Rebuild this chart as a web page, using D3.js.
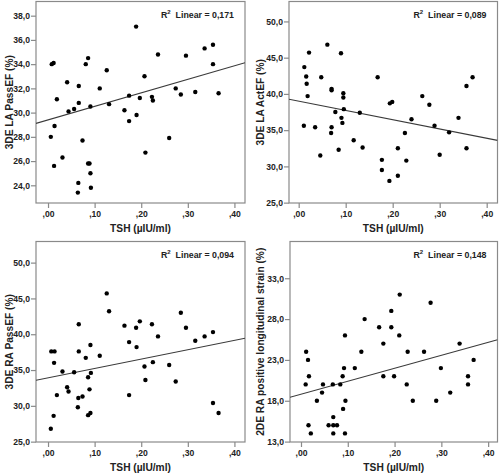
<!DOCTYPE html>
<html>
<head>
<meta charset="utf-8">
<script src="https://cdn.jsdelivr.net/npm/d3@7"></script>
<style>
  html, body { margin: 0; padding: 0; background: #fff; }
  svg { display: block; }
  text { font-family: "Liberation Sans", Arial, sans-serif; font-weight: bold; fill: #222; }
</style>
</head>
<body>
<svg id="chart" width="500" height="473"></svg>
<script>
// ---------- data ----------
const xTicks = [0, 0.1, 0.2, 0.3, 0.4];
const xTickLabels = [",00", ",10", ",20", ",30", ",40"];
const xTitle = "TSH (\u00b5IU/ml)";

const yTitles = ["3DE LA PassEF (%)", "3DE LA ActEF (%)", "3DE RA PassEF (%)", "2DE RA positive longitudinal strain (%)"];
const r2Labels = ["0,171", "0,089", "0,094", "0,148"];

const yTicksLAPass = [24, 26, 28, 30, 32, 34, 36, 38];
const yTicksLAAct = [25, 30, 35, 40, 45, 50];
const yTicksRAPass = [25, 30, 35, 40, 45, 50];
const yTicksRAStrain = [13, 18, 23, 28, 33];

// fit lines: [intercept, slope]
const fitLAPass = [29.4, 11.15];
const fitLAAct = [39.0, -12.8];
const fitRAPass = [33.9, 13.1];
const fitRAStrain = [18.8, 15.9];

const tshLAPass = [0.006,0.008,0.012,0.014,0.013,0.019,0.031,0.041,0.044,0.056,0.066,0.066,0.065,0.064,0.074,0.081,0.086,0.086,0.089,0.091,0.091,0.092,0.111,0.126,0.131,0.164,0.174,0.174,0.189,0.190,0.197,0.207,0.209,0.223,0.225,0.236,0.260,0.274,0.285,0.296,0.316,0.336,0.354,0.354,0.366];
const valLAPass = [28.0,34.0,34.1,28.9,25.6,31.1,26.3,32.5,30.1,30.3,32.2,30.8,24.2,23.4,27.7,34.0,34.5,25.8,25.8,30.5,25.0,23.8,32.0,33.5,30.7,30.2,31.4,29.3,37.1,29.8,31.2,33.0,26.7,31.3,31.0,34.8,27.9,32.0,31.5,34.7,31.7,35.3,35.6,34.0,31.6];

const tshLAAct = [0.012,0.016,0.017,0.019,0.011,0.022,0.035,0.048,0.046,0.061,0.070,0.070,0.070,0.069,0.078,0.085,0.090,0.091,0.093,0.095,0.095,0.096,0.117,0.130,0.136,0.168,0.177,0.177,0.193,0.194,0.199,0.211,0.211,0.226,0.229,0.240,0.263,0.278,0.289,0.300,0.320,0.340,0.357,0.357,0.370];
const valLAAct = [43.7,42.4,41.4,39.7,35.6,45.7,35.4,42.3,31.5,46.8,40.7,40.5,35.4,34.6,37.5,32.3,45.6,36.7,36.0,40.1,39.5,37.9,33.6,37.4,32.6,42.3,30.9,29.5,28.0,38.7,38.9,32.5,28.7,34.6,30.8,36.5,39.7,38.5,35.6,31.6,34.7,36.7,41.1,32.5,42.3];

const tshRAPass = [0.007,0.014,0.013,0.012,0.006,0.019,0.031,0.041,0.044,0.056,0.066,0.066,0.065,0.064,0.074,0.081,0.086,0.086,0.089,0.091,0.091,0.092,0.111,0.126,0.131,0.164,0.174,0.174,0.189,0.190,0.197,0.207,0.209,0.223,0.225,0.236,0.260,0.274,0.285,0.296,0.316,0.336,0.354,0.354,0.366];
const valRAPass = [37.6,37.6,36.0,28.6,26.8,31.5,34.8,32.6,32.0,34.7,41.4,37.6,31.1,29.8,31.3,36.7,34.0,28.7,32.3,38.5,29.0,34.6,37.0,45.7,43.2,41.2,38.9,31.5,40.9,38.2,41.8,35.5,33.6,41.4,36.1,39.7,35.7,33.4,43.0,40.9,39.1,39.7,40.3,30.4,29.0];

const tshRAStrain = [0.010,0.011,0.015,0.017,0.016,0.021,0.034,0.045,0.047,0.059,0.068,0.069,0.069,0.069,0.077,0.084,0.089,0.090,0.092,0.094,0.095,0.094,0.115,0.129,0.136,0.167,0.176,0.176,0.193,0.193,0.199,0.211,0.210,0.226,0.228,0.239,0.263,0.277,0.289,0.299,0.319,0.339,0.357,0.357,0.369];
const valRAStrain = [20,24,23,21,15,14,18,19,20,15,20,16,15,14,15,20,21,17,22,26,18,14,22,24,28,27,25,21,29,27,21,31,26,20,24,18,24,30,18,22,19,25,21,20,23];

// ---------- layout ----------
const panels = [
  { xs: tshLAPass, ys: valLAPass, fit: fitLAPass, yTicks: yTicksLAPass, title: yTitles[0], r2: r2Labels[0],
    left: 36, right: 245, top: 1.5, bottom: 203, xDom: [-0.0258, 0.4227], yDom: [22.54, 39.17], titleX: 12.5 },
  { xs: tshLAAct, ys: valLAAct, fit: fitLAAct, yTicks: yTicksLAAct, title: yTitles[1], r2: r2Labels[1],
    left: 289, right: 497.5, top: 1.5, bottom: 203, xDom: [-0.0206, 0.423], yDom: [24.95, 52.75], titleX: 264 },
  { xs: tshRAPass, ys: valRAPass, fit: fitRAPass, yTicks: yTicksRAPass, title: yTitles[2], r2: r2Labels[2],
    left: 36, right: 245, top: 241.5, bottom: 442, xDom: [-0.0258, 0.4227], yDom: [24.95, 52.95], titleX: 12.5 },
  { xs: tshRAStrain, ys: valRAStrain, fit: fitRAStrain, yTicks: yTicksRAStrain, title: yTitles[3], r2: r2Labels[3],
    left: 290, right: 497.5, top: 241.5, bottom: 442, xDom: [-0.0235, 0.42], yDom: [12.95, 37.5], titleX: 264 }
];

const svg = d3.select("#chart");
const frameColor = "#8a8a8a";
const yFmt = v => d3.format(".1f")(v).replace(".", ",");

panels.forEach(p => {
  const x = d3.scaleLinear().domain(p.xDom).range([p.left, p.right]);
  const y = d3.scaleLinear().domain(p.yDom).range([p.bottom, p.top]);
  const g = svg.append("g");

  // frame
  g.append("rect")
    .attr("x", p.left).attr("y", p.top)
    .attr("width", p.right - p.left).attr("height", p.bottom - p.top)
    .attr("fill", "#fff").attr("stroke", frameColor).attr("stroke-width", 1.2);

  // axes
  const xa = g.append("g").attr("transform", `translate(0,${p.bottom})`)
    .call(d3.axisBottom(x).tickValues(xTicks).tickFormat((d, i) => xTickLabels[i]).tickSize(5).tickSizeOuter(0).tickPadding(3));
  const ya = g.append("g").attr("transform", `translate(${p.left},0)`)
    .call(d3.axisLeft(y).tickValues(p.yTicks).tickFormat(yFmt).tickSize(5).tickSizeOuter(0).tickPadding(1));
  [xa, ya].forEach(a => {
    a.select(".domain").remove();
    a.selectAll(".tick line").attr("stroke", frameColor).attr("stroke-width", 1.2);
    a.selectAll(".tick text").attr("font-size", 8.6).attr("font-family", "Liberation Sans, Arial, sans-serif").attr("font-weight", "bold").attr("fill", "#222");
  });

  // clip for fit line
  const cid = "clip" + p.left + "_" + Math.round(p.top);
  svg.append("clipPath").attr("id", cid).append("rect")
    .attr("x", p.left).attr("y", p.top).attr("width", p.right - p.left).attr("height", p.bottom - p.top);

  // fit line
  const line = d3.line().x(d => x(d)).y(d => y(p.fit[0] + p.fit[1] * d));
  g.append("path").datum(p.xDom)
    .attr("d", line).attr("clip-path", `url(#${cid})`)
    .attr("stroke", "#3a3a3a").attr("stroke-width", 1.1).attr("fill", "none");

  // points
  g.selectAll("circle.pt").data(p.xs.map((v, i) => [v, p.ys[i]])).enter()
    .append("circle").attr("class", "pt")
    .attr("cx", d => x(d[0])).attr("cy", d => y(d[1])).attr("r", 2.2).attr("fill", "#000");

  // R² label
  const t = g.append("text").attr("x", p.right - 11).attr("y", p.top + 16)
    .attr("text-anchor", "end").attr("font-size", 8.8);
  t.append("tspan").text("R");
  t.append("tspan").attr("font-size", 6).attr("dy", -3.5).text("2");
  t.append("tspan").attr("dy", 3.5).text("\u00a0 Linear = " + p.r2);

  // x title
  g.append("text").attr("x", (p.left + p.right) / 2).attr("y", p.bottom + 28.5)
    .attr("text-anchor", "middle").attr("font-size", 10.2).text(xTitle);

  // y title
  g.append("text")
    .attr("transform", `translate(${p.titleX},${(p.top + p.bottom) / 2}) rotate(-90)`)
    .attr("text-anchor", "middle").attr("font-size", 10.2).text(p.title);
});
</script>
</body>
</html>
